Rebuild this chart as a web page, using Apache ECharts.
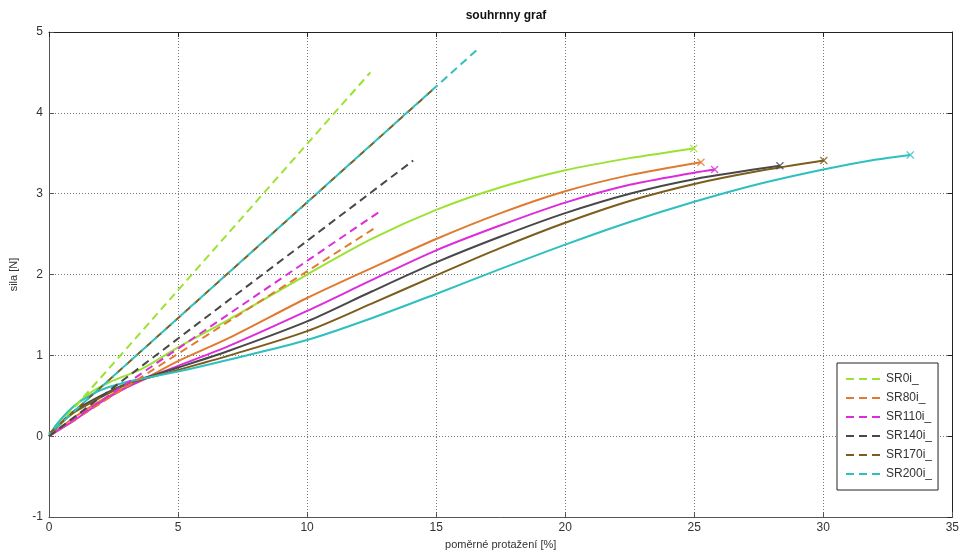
<!DOCTYPE html>
<html>
<head>
<meta charset="utf-8">
<script src="https://cdn.jsdelivr.net/npm/echarts@6/dist/echarts.min.js"></script>
<style>html,body{margin:0;padding:0;background:#fff;}#c{width:962px;height:555px;}</style>
</head>
<body>
<div id="c"></div>
<script>
const names = ['SR0i_', 'SR80i_', 'SR110i_', 'SR140i_', 'SR170i_', 'SR200i_'];
const colors = ['#9be232', '#e07a30', '#dc2cdc', '#484848', '#7d5d1c', '#2ebfbf'];

// measured curves (solid) [strain %, force N]
const curveSR0 = [[0,0],[0.5,0.22],[1,0.38],[1.66,0.55],[2.5,0.69],[3.58,0.83],[5,1.10],[7,1.45],[10,2.0],[12.5,2.44],[15,2.8],[17.5,3.08],[20,3.29],[22.5,3.44],[24.98,3.56]];
const curveSR80 = [[0,0],[0.5,0.12],[1,0.24],[2,0.44],[3,0.61],[3.58,0.69],[5,0.93],[7,1.22],[10,1.71],[12.5,2.08],[15,2.44],[17.5,2.76],[20,3.03],[22.5,3.23],[25.26,3.39]];
const curveSR110 = [[0,0],[0.5,0.1],[1,0.2],[2,0.42],[3,0.6],[3.58,0.69],[5,0.87],[7,1.12],[10,1.55],[12.5,1.93],[15,2.30],[17.5,2.61],[20,2.89],[22.5,3.11],[25,3.26],[25.79,3.30]];
const curveSR140 = [[0,0],[0.5,0.18],[1,0.32],[2,0.5],[3,0.65],[3.58,0.71],[5,0.85],[7,1.06],[10,1.42],[12.5,1.79],[15,2.15],[17.5,2.47],[20,2.76],[22.5,3.0],[25,3.18],[28.32,3.345]];
const curveSR170 = [[0,0],[0.5,0.17],[1,0.3],[2,0.48],[3,0.64],[3.58,0.7],[5,0.82],[7,1.0],[10,1.3],[12.5,1.64],[15,1.99],[17.5,2.33],[20,2.64],[22.5,2.91],[25,3.12],[27.5,3.28],[30.02,3.41]];
const curveSR200 = [[0,0],[0.3,0.15],[1,0.38],[2,0.57],[3,0.67],[3.58,0.71],[5,0.8],[7,0.95],[10,1.19],[12.5,1.46],[15,1.76],[17.5,2.07],[20,2.37],[22.5,2.65],[25,2.9],[27.5,3.12],[30,3.3],[32,3.42],[33.37,3.48]];

// linear fits (dashed) [start, end]
const fitSR0 = [[0,0],[12.45,4.50]];
const fitSR80 = [[0,0],[12.6,2.57]];
const fitSR110 = [[0,0],[12.77,2.77]];
const fitSR140 = [[0,0],[14.11,3.41]];
const fitSR170 = [[0,0.03],[14.88,4.29]];
const fitSR200 = [[0,0.03],[16.69,4.81]];

const curves = [curveSR0, curveSR80, curveSR110, curveSR140, curveSR170, curveSR200];
const fits = [fitSR0, fitSR80, fitSR110, fitSR140, fitSR170, fitSR200];

const xTicks = {min: 0, max: 35, interval: 5};
const yTicks = {min: -1, max: 5, interval: 1};

const xSymbol = 'path://M0,1.2L1.2,0L5,3.8L8.8,0L10,1.2L6.2,5L10,8.8L8.8,10L5,6.2L1.2,10L0,8.8L3.8,5Z';

const series = [];
curves.forEach((c, i) => {
  series.push({
    name: names[i] + ' data', type: 'line', data: c, smooth: 0.3, symbol: 'none',
    lineStyle: {color: colors[i], width: 2}, itemStyle: {color: colors[i]}, z: 3
  });
});
fits.forEach((f, i) => {
  series.push({
    name: names[i], type: 'line', data: f, symbol: 'none',
    lineStyle: {color: colors[i], width: 2, type: [8, 5], dashOffset: i === 5 ? 6 : 0},
    itemStyle: {color: colors[i]}, z: 4
  });
});
series.push({
  name: 'ends', type: 'scatter', symbol: xSymbol, symbolSize: 8, z: 5,
  data: curves.map((c, i) => ({value: c[c.length - 1], itemStyle: {color: colors[i]}}))
});

const axisCol = '#555';
const gridLine = {show: true, lineStyle: {color: '#777', width: 1, type: [1, 2]}};
const lbl = {color: '#333', fontSize: 12, fontFamily: 'Liberation Sans, Arial, sans-serif'};

const option = {
  animation: false,
  backgroundColor: '#fff',
  title: {
    text: 'souhrnny graf', left: 501, top: 5, textAlign: 'center',
    textStyle: {fontSize: 12, fontWeight: 'bold', color: '#111', fontFamily: 'Liberation Sans, Arial, sans-serif'}
  },
  grid: {left: 47, right: 7, top: 32, bottom: 33, containLabel: false},
  legend: {
    data: names, orient: 'vertical', left: 837, top: 363,
    itemWidth: 35, itemHeight: 14, itemGap: 7, padding: [10, 6, 10, 8],
    backgroundColor: '#fff', borderColor: '#222', borderWidth: 1,
    itemStyle: {color: 'rgba(0,0,0,0)', borderWidth: 0, opacity: 0},
    lineStyle: {dashOffset: 0},
    textStyle: {color: '#333', fontSize: 12, fontFamily: 'Liberation Sans, Arial, sans-serif'}
  },
  xAxis: [
    Object.assign({
      type: 'value', position: 'bottom',
      name: 'poměrné protažení [%]', nameLocation: 'middle', nameGap: 19,
      nameTextStyle: {color: '#333', fontSize: 11, fontFamily: 'Liberation Sans, Arial, sans-serif'},
      axisLine: {show: true, onZero: false, lineStyle: {color: axisCol}},
      axisTick: {show: true, inside: true, length: 5, lineStyle: {color: axisCol}},
      axisLabel: Object.assign({margin: 5}, lbl),
      splitLine: gridLine
    }, xTicks),
    Object.assign({
      type: 'value', position: 'top',
      axisLine: {show: true, onZero: false, lineStyle: {color: '#222'}},
      axisTick: {show: true, inside: true, length: 5, lineStyle: {color: '#222'}},
      axisLabel: {show: false}, splitLine: {show: false}
    }, xTicks)
  ],
  yAxis: [
    Object.assign({
      type: 'value', position: 'left',
      name: 'sila [N]', nameLocation: 'middle', nameGap: 30,
      nameTextStyle: {color: '#333', fontSize: 11, fontFamily: 'Liberation Sans, Arial, sans-serif'},
      axisLine: {show: true, onZero: false, lineStyle: {color: axisCol}},
      axisTick: {show: true, inside: true, length: 5, lineStyle: {color: axisCol}},
      axisLabel: Object.assign({margin: 6}, lbl),
      splitLine: gridLine
    }, yTicks),
    Object.assign({
      type: 'value', position: 'right',
      axisLine: {show: true, onZero: false, lineStyle: {color: '#222'}},
      axisTick: {show: true, inside: true, length: 5, lineStyle: {color: '#222'}},
      axisLabel: {show: false}, splitLine: {show: false}
    }, yTicks)
  ],
  series: series
};

const chart = echarts.init(document.getElementById('c'), null, {renderer: 'canvas'});
chart.setOption(option);
</script>
</body>
</html>
